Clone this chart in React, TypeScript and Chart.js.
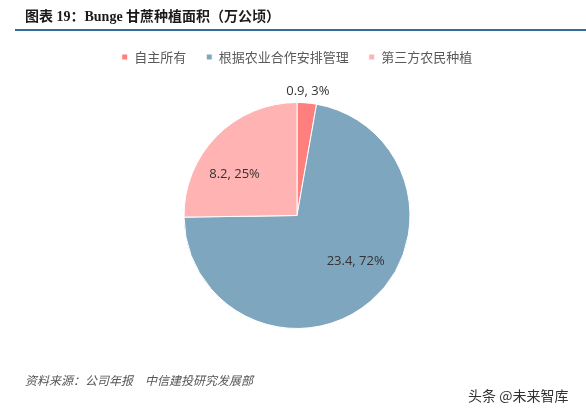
import { useEffect, useRef } from "react"
import { Chart, registerables } from "chart.js"

Chart.register(...registerables)

// 数据
const categorias = ["自主所有", "根据农业合作安排管理", "第三方农民种植"]
const areas = [0.9, 23.4, 8.2]
const colores = ["#FF7F7F", "#7FA6BF", "#FFB3B3"]

const titulo = "图表 19：Bunge 甘蔗种植面积（万公顷）"
const fuente = "资料来源：公司年报　中信建投研究发展部"
const marcaAgua = "头条 @未来智库"

// etiquetas "valor, %" dibujadas sobre cada sector
const etiquetasPlugin = {
  id: "etiquetasSector",
  afterDatasetsDraw(chart: Chart) {
    const { ctx } = chart
    const meta = chart.getDatasetMeta(0)
    const datos = chart.data.datasets[0].data as number[]
    const total = datos.reduce((a, b) => a + b, 0)
    ctx.save()
    ctx.font = "13px 'Open Sans', sans-serif"
    ctx.fillStyle = "#333333"
    ctx.textAlign = "center"
    ctx.textBaseline = "middle"
    meta.data.forEach((arc: any, i: number) => {
      const { x, y, startAngle, endAngle, outerRadius } = arc.getProps(
        ["x", "y", "startAngle", "endAngle", "outerRadius"],
        true
      )
      const frac = datos[i] / total
      const pequeno = frac < 0.05
      const mid = (startAngle + endAngle) / 2 + (pequeno ? 0 : -0.2)
      const r = outerRadius * (pequeno ? 1.1 : 0.66)
      const texto = `${datos[i]}, ${Math.round(frac * 100)}%`
      ctx.fillText(texto, x + Math.cos(mid) * r, y + Math.sin(mid) * r)
    })
    ctx.restore()
  },
}

export default function App() {
  const canvasRef = useRef<HTMLCanvasElement>(null)
  const chartRef = useRef<Chart | null>(null)

  useEffect(() => {
    if (!canvasRef.current) return
    chartRef.current?.destroy()
    chartRef.current = new Chart(canvasRef.current, {
      type: "pie",
      data: {
        labels: categorias,
        datasets: [
          {
            data: areas,
            backgroundColor: colores,
            borderColor: "#ffffff",
            borderWidth: 1,
            radius: 113,
          },
        ],
      },
      options: {
        responsive: false,
        animation: false,
        layout: { padding: { top: 30.5, bottom: 57.5, left: 8, right: 0 } },
        plugins: {
          legend: {
            position: "top",
            labels: {
              boxWidth: 6,
              boxHeight: 6,
              padding: 20,
              color: "#595959",
              font: { size: 13, family: "'Noto Sans CJK SC', sans-serif" },
            },
          },
          tooltip: { enabled: false },
        },
      },
      plugins: [etiquetasPlugin],
    })
    return () => {
      chartRef.current?.destroy()
      chartRef.current = null
    }
  }, [])

  return (
    <div style={{ position: "absolute", left: 0, top: 0, width: 586, height: 415, background: "#fff", overflow: "hidden" }}>
      <canvas ref={canvasRef} width={586} height={415} style={{ position: "absolute", left: 0, top: 0 }}></canvas>
      <div
        style={{
          position: "absolute",
          left: 25,
          top: 9,
          fontSize: 14,
          lineHeight: "16px",
          fontWeight: "bold",
          fontFamily: "'Liberation Serif', 'Noto Sans CJK SC', serif",
          color: "#1a1a1a",
          whiteSpace: "pre",
        }}
      >
        {titulo}
      </div>
      <div style={{ position: "absolute", left: 15, right: 0, top: 29, height: 2, background: "#336b99" }}></div>
      <div
        style={{
          position: "absolute",
          left: 25,
          top: 373,
          fontSize: 12,
          lineHeight: "14px",
          fontStyle: "italic",
          fontFamily: "'Noto Sans CJK SC', sans-serif",
          color: "#555",
          whiteSpace: "pre",
        }}
      >
        {fuente}
      </div>
      <div
        style={{
          position: "absolute",
          left: 468,
          top: 387,
          fontSize: 14,
          lineHeight: "16px",
          fontFamily: "'Noto Sans CJK SC', sans-serif",
          color: "#333",
          whiteSpace: "pre",
        }}
      >
        {marcaAgua}
      </div>
    </div>
  )
}
